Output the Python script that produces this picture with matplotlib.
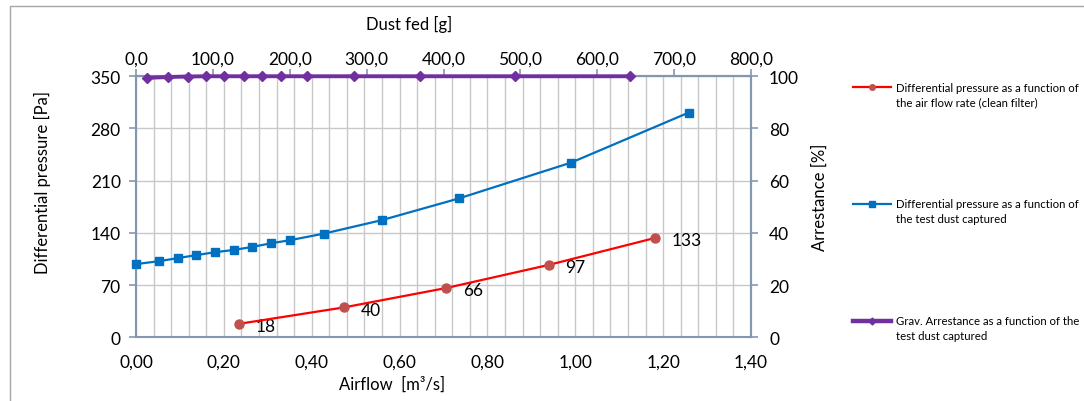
import matplotlib

matplotlib.use("Agg")
import matplotlib.pyplot as plt
from matplotlib.lines import Line2D
from matplotlib.patches import Rectangle
from matplotlib.ticker import FuncFormatter, MultipleLocator

# clean filter: airflow [m3/s] vs differential pressure [Pa]
airflow = [0.234, 0.473, 0.706, 0.940, 1.181]
dp_clean = [18, 40, 66, 97, 133]

# loading: dust fed [g] vs differential pressure [Pa]
dust_fed = [0, 30, 54, 78, 103, 127, 151, 176, 200, 245, 320, 420, 566, 719]
dp_dust = [98, 102, 106, 110, 114, 117, 121, 126, 130, 139, 157, 186, 234, 301]

# gravimetric arrestance [%] at mid-points of the dust increments
dust_mid = [14, 42, 67, 91, 115, 140, 164, 188, 222, 283, 370, 493, 642]
arrestance = [99.3, 99.6, 99.8, 99.9, 99.9, 99.9, 99.9, 99.9, 99.9, 99.9, 99.9, 99.9, 99.9]

legend_labels = [
    ("Differential pressure as a function of", "the air flow rate (clean filter)"),
    ("Differential pressure as a function of", "the test dust captured"),
    ("Grav. Arrestance as a function of the", "test dust captured"),
]

W, H = 1084, 402
FONT = "Lato"
SPINE = "#8497b0"
GRID = "#c8c8c8"
RED, RED_MK = "#ff0000", "#c0504d"
BLUE = "#0070c0"
PURPLE = "#7030a0"
TICK_FS = 12.5
LABEL_FS = 12
LEGEND_FS = 8.2

plt.rcParams["font.family"] = [FONT, "DejaVu Sans"]


def fx(px):
    return px / W


def fy(py):
    return 1.0 - py / H


fig = plt.figure(figsize=(W / 100, H / 100), dpi=100, facecolor="white")
fig.add_artist(Rectangle((fx(10), fy(420)), fx(1200), fy(7) - fy(420),
                         transform=fig.transFigure, fill=False,
                         edgecolor="#a6a6a6", linewidth=1.0))

left, right, top, bottom = 136, 751, 77, 338.3
ax = fig.add_axes([fx(left), fy(bottom), fx(right - left), fy(top) - fy(bottom)])
ax.set_xlim(0, 1.4)
ax.set_ylim(0, 350)
ax.xaxis.set_major_locator(MultipleLocator(0.2))
ax.xaxis.set_minor_locator(MultipleLocator(0.04))
ax.yaxis.set_major_locator(MultipleLocator(70))
ax.grid(which="both", axis="x", color=GRID, linewidth=1.0)
ax.grid(which="major", axis="y", color=GRID, linewidth=1.0)
ax.set_axisbelow(True)
ax.xaxis.set_major_formatter(FuncFormatter(lambda v, p: f"{v:.2f}".replace(".", ",")))
ax.tick_params(axis="x", which="both", length=0, pad=12, labelsize=TICK_FS)
ax.tick_params(axis="y", length=5, color=SPINE, width=1.2, pad=6, labelsize=TICK_FS)
for s in ax.spines.values():
    s.set_color(SPINE)
    s.set_linewidth(1.5)

ax_top = ax.twiny()
ax_top.set_xlim(0, 800)
ax_top.set_ylim(0, 350)
ax_top.xaxis.set_major_locator(MultipleLocator(100))
ax_top.xaxis.set_major_formatter(FuncFormatter(lambda v, p: f"{v:.1f}".replace(".", ",")))
ax_top.tick_params(axis="x", length=5, color=SPINE, width=1.2, pad=2, labelsize=TICK_FS)
for s in ax_top.spines.values():
    s.set_visible(False)
ax_top.spines["top"].set_visible(True)
ax_top.spines["top"].set_color(SPINE)
ax_top.spines["top"].set_linewidth(1.5)

ax_r = ax_top.twinx()
ax_r.set_ylim(0, 100)
ax_r.yaxis.set_major_locator(MultipleLocator(20))
ax_r.tick_params(axis="y", length=5, color=SPINE, width=1.2, pad=8, labelsize=TICK_FS)
for s in ax_r.spines.values():
    s.set_visible(False)
ax_r.spines["right"].set_visible(True)
ax_r.spines["right"].set_color(SPINE)
ax_r.spines["right"].set_linewidth(1.5)

ax.plot(airflow, dp_clean, color=RED, linewidth=1.6, marker="o", markersize=6.5,
        markerfacecolor=RED_MK, markeredgecolor=RED_MK, zorder=5, clip_on=False)
for x, y in zip(airflow, dp_clean):
    ax.annotate(str(y), (x, y), xytext=(12, -1.5), textcoords="offset points",
                ha="left", va="center", fontsize=TICK_FS)

ax_top.plot(dust_fed, dp_dust, color=BLUE, linewidth=1.6, marker="s", markersize=6,
            markerfacecolor=BLUE, markeredgecolor=BLUE, zorder=5, clip_on=False)
ax_r.plot(dust_mid, arrestance, color=PURPLE, linewidth=2.8, marker="D", markersize=5.5,
          markerfacecolor=PURPLE, markeredgecolor=PURPLE, zorder=5, clip_on=False)

fig.text(fx(409), fy(24), "Dust fed [g]", ha="center", va="center", fontsize=LABEL_FS)
fig.text(fx(392), fy(385), "Airflow  [m³/s]", ha="center", va="center", fontsize=LABEL_FS)
fig.text(fx(42), fy(183), "Differential pressure [Pa]", ha="center", va="center",
         rotation=90, fontsize=LABEL_FS)
fig.text(fx(820), fy(197), "Arrestance [%]", ha="center", va="center",
         rotation=90, fontsize=LABEL_FS)

styles = [
    dict(color=RED, linewidth=1.6, marker="o", markersize=4,
         markerfacecolor=RED_MK, markeredgecolor=RED_MK),
    dict(color=BLUE, linewidth=1.6, marker="s", markersize=5,
         markerfacecolor=BLUE, markeredgecolor=BLUE),
    dict(color=PURPLE, linewidth=3.2, marker="D", markersize=3.5,
         markerfacecolor=PURPLE, markeredgecolor=PURPLE),
]
for (line1, line2), st, ly in zip(legend_labels, styles, [88, 205, 322]):
    fig.add_artist(Line2D([fx(853), fx(872), fx(891)], [fy(ly)] * 3,
                          transform=fig.transFigure, markevery=[1], **st))
    fig.text(fx(896), fy(ly), line1, ha="left", va="center", fontsize=LEGEND_FS)
    fig.text(fx(896), fy(ly + 14.5), line2, ha="left", va="center", fontsize=LEGEND_FS)

fig.savefig("out.png", dpi=100, facecolor="white")
